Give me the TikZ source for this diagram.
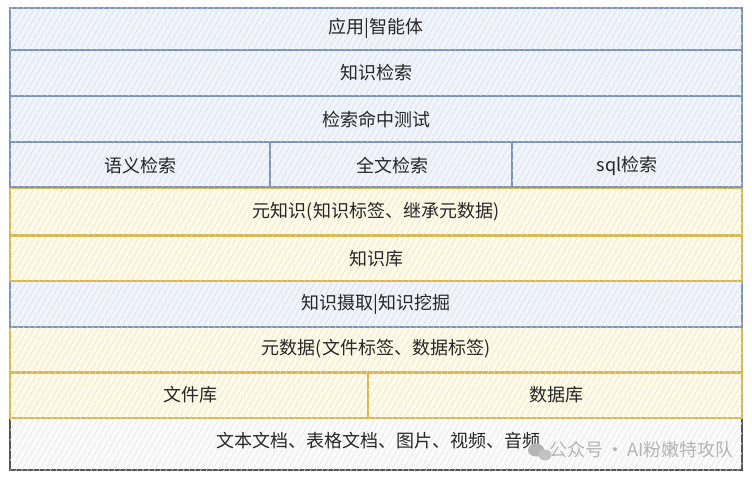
\documentclass[tikz,border=0pt]{standalone}
\usepackage{fontspec}
\setmainfont{Noto Sans CJK SC}
\usetikzlibrary{patterns.meta}
\definecolor{bfill}{HTML}{F1F5FB}
\definecolor{bhatch}{HTML}{D0DBEC}
\definecolor{bline}{HTML}{7E93B8}
\definecolor{yfill}{HTML}{FFFBEC}
\definecolor{yhatch}{HTML}{F0E0AE}
\definecolor{yline}{HTML}{D9B755}
\definecolor{gfill}{HTML}{FBFBFB}
\definecolor{ghatch}{HTML}{E3E3E3}
\definecolor{gline}{HTML}{555555}
\definecolor{wm}{HTML}{B4B4B4}
\tikzset{
  layer/.style={draw, line width=1.5pt, inner sep=0pt},
  blue/.style={layer, draw=bline, fill=bfill, postaction={pattern={Lines[angle=60,distance=5pt,line width=0.5pt]}, pattern color=bhatch}},
  yel/.style={layer, draw=yline, fill=yfill, postaction={pattern={Lines[angle=60,distance=5pt,line width=0.5pt]}, pattern color=yhatch}},
  gry/.style={layer, draw=gline, line width=1.2pt, fill=gfill, postaction={pattern={Lines[angle=60,distance=5pt,line width=0.5pt]}, pattern color=ghatch}},
  lbl/.style={font=\fontsize{18}{21}\selectfont, text=black!85, inner sep=0pt},
}
\begin{document}
\begin{tikzpicture}[x=1pt,y=-1pt]
\useasboundingbox (0,0) rectangle (752,478);
% bottom layer
\path[gry] (10,418) rectangle (742,470);
\node[lbl] (raw) at (378,441) {文本文档、表格文档、图片、视频、音频};
% yellow and blue layers
\path[yel] (10,373) rectangle (368,418);
\node[lbl] (files) at (190,395) {文件库};
\path[yel] (368,373) rectangle (742,418);
\node[lbl] (data) at (556,395) {数据库};
\path[yel] (10,327) rectangle (742,372);
\node[lbl] (meta) at (376,349) {元数据(文件标签、数据标签)};
\path[blue] (10,281) rectangle (742,327);
\node[lbl] (ingest) at (376,304) {知识摄取|知识挖掘};
\path[yel] (10,236) rectangle (742,281);
\node[lbl] (kb) at (376,259) {知识库};
\path[yel] (10,188) rectangle (742,235);
\node[lbl] (metak) at (376,212) {元知识(知识标签、继承元数据)};
\path[blue] (10,142) rectangle (270,187);
\node[lbl] (sem) at (140,166) {语义检索};
\path[blue] (270,142) rectangle (512,187);
\node[lbl] (full) at (392,166) {全文检索};
\path[blue] (512,142) rectangle (742,187);
\node[lbl] (sql) at (627,166) {sql检索};
\path[blue] (10,96) rectangle (742,142);
\node[lbl] (hit) at (376,120) {检索命中测试};
\path[blue] (10,50) rectangle (742,96);
\node[lbl] (ret) at (376,73) {知识检索};
\path[blue] (10,8) rectangle (742,50);
\node[lbl] (app) at (376,28) {应用|智能体};
% watermark
\fill[wm] (536,450) ellipse (8pt and 6.5pt);
\fill[wm!80] (545,455) ellipse (6.5pt and 5.5pt);
\node[font=\fontsize{18}{22}\selectfont, text=wm, anchor=west, inner sep=0pt] (wmark) at (549,450) {公众号\,·\,AI粉嫩特攻队};
\end{tikzpicture}
\end{document}
